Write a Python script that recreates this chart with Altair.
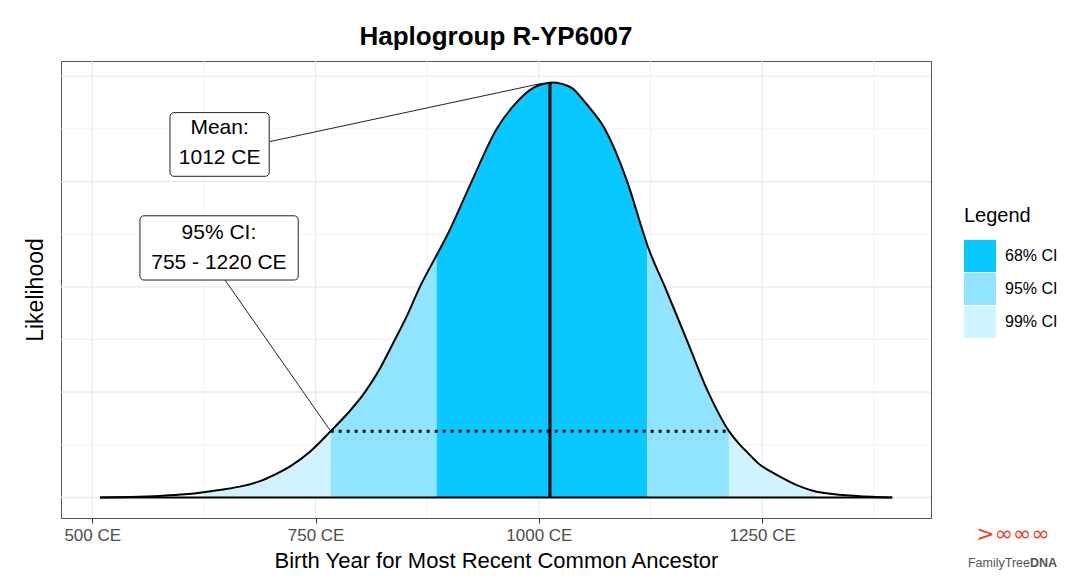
import altair as alt
import pandas as pd

# ---- data ----
# density curve (year, relative likelihood in grid units)
years = [508.6, 542.2, 575.8, 603.8, 624.3, 646.3, 669.0, 687.7, 702.6, 722.4,
         743.7, 766.9, 785.1, 805.3, 822.1, 838.9, 852.3, 866.8, 885.5, 897.9,
         924.7, 952.7, 973.2, 993.7, 1003.4, 1016.1, 1026.9, 1036.7, 1053.5,
         1073.9, 1098.9, 1116.5, 1121.3, 1141.1, 1165.4, 1189.6, 1212.8, 1225.1,
         1232.6, 1247.5, 1264.3, 1292.3, 1310.9, 1355.7, 1395.6]
likelihood = [0.0, 0.01, 0.03, 0.06, 0.10, 0.15, 0.22, 0.31, 0.42, 0.60,
              0.87, 1.26, 1.58, 2.0, 2.45, 3.0, 3.45, 4.0, 4.6, 5.0,
              6.0, 7.0, 7.47, 7.78, 7.85, 7.88, 7.85, 7.78, 7.47,
              7.0, 6.0, 5.05, 4.8, 4.0, 3.0, 2.0, 1.26, 1.0,
              0.87, 0.62, 0.45, 0.21, 0.11, 0.03, 0.0]

band_edges = [624.3, 766.9, 885.5, 1121.3, 1212.8, 1310.9]
band_names = ["99% CI", "95% CI", "68% CI", "95% CI", "99% CI"]
legend_order = ["68% CI", "95% CI", "99% CI"]
legend_colors = ["#08C8FF", "#91E4FF", "#D0F4FF"]

mean_year = 1012.4
mean_top = 7.88
ci_level = 1.26
ci_low, ci_high = 766.9, 1212.8

ann_text = ["Mean:\n1012 CE", "95% CI:\n755 - 1220 CE"]
ann_x = [642.6, 641.8]
ann_y = [7.01, 5.02]
box_x1 = [587.0, 553.4]
box_x2 = [698.1, 730.6]
box_y1 = [6.10, 4.13]
box_y2 = [7.31, 5.35]
lead_x1 = [698.9, 648.6]
lead_y1 = [6.76, 4.13]
lead_x2 = [1004.5, 766.9]
lead_y2 = [7.87, 1.26]

x_major = [500, 750, 1000, 1250]
x_minor = [625, 875, 1125, 1375]
y_major = [0, 2, 4, 6, 8]
y_minor = [1, 3, 5, 7]

# ---- tables ----
curve = pd.DataFrame({"year": years, "lik": likelihood})
rows = []
for i, name in enumerate(band_names):
    lo, hi = band_edges[i], band_edges[i + 1]
    for yv, lv in zip(years, likelihood):
        if lo - 1e-9 <= yv <= hi + 1e-9:
            rows.append({"year": yv, "lik": lv, "band": name, "seg": i})
bands = pd.DataFrame(rows)
ann = pd.DataFrame({"text": ann_text, "x": ann_x, "y": ann_y,
                    "bx1": box_x1, "bx2": box_x2, "by1": box_y1, "by2": box_y2,
                    "lx1": lead_x1, "ly1": lead_y1, "lx2": lead_x2, "ly2": lead_y2})

FONT = "Liberation Sans"
xs = alt.Scale(domain=[465, 1439], nice=False, zero=False)
ys = alt.Scale(domain=[-0.39, 8.29], nice=False, zero=False)
xaxis = alt.Axis(values=x_major, labelExpr="datum.value + ' CE'", grid=False,
                 domain=False, ticks=True, tickColor="#333333", tickSize=5,
                 labelFontSize=17, labelColor="#4D4D4D", labelPadding=4,
                 title="Birth Year for Most Recent Common Ancestor",
                 titleFontSize=22, titleColor="black", titleFontWeight="normal",
                 titlePadding=7)
yaxis = alt.Axis(labels=False, ticks=False, grid=False, domain=False,
                 title="Likelihood", titleFontSize=23, titleColor="black",
                 titleFontWeight="normal", titlePadding=14)


def X(f):
    return alt.X(f, type="quantitative", scale=xs, axis=xaxis)


def Y(f):
    return alt.Y(f, type="quantitative", scale=ys, axis=yaxis, stack=None)


gx_major = alt.Chart(pd.DataFrame({"v": x_major})).mark_rule(
    color="#E8E8E8", strokeWidth=1.2).encode(x=X("v"))
gx_minor = alt.Chart(pd.DataFrame({"v": x_minor})).mark_rule(
    color="#EFEFEF", strokeWidth=0.9).encode(x=X("v"))
gy_major = alt.Chart(pd.DataFrame({"v": y_major})).mark_rule(
    color="#E8E8E8", strokeWidth=1.2).encode(y=Y("v"))
gy_minor = alt.Chart(pd.DataFrame({"v": y_minor})).mark_rule(
    color="#EFEFEF", strokeWidth=0.9).encode(y=Y("v"))

areas = alt.Chart(bands).mark_area(opacity=1, interpolate="monotone").encode(
    x=X("year"), y=Y("lik"), y2=alt.datum(0),
    color=alt.Color("band:N", scale=alt.Scale(domain=legend_order, range=legend_colors),
                    legend=alt.Legend(title="Legend")),
    detail="seg:N",
)
line = alt.Chart(curve).mark_line(color="black", strokeWidth=2, interpolate="monotone").encode(
    x=X("year"), y=Y("lik"))
base = alt.Chart(pd.DataFrame({"a": [years[0]], "b": [years[-1]], "y": [0]})).mark_rule(
    color="black", strokeWidth=2).encode(x=X("a"), x2="b", y=Y("y"))
mean_rule = alt.Chart(pd.DataFrame({"x": [mean_year], "y": [0], "y2": [mean_top]})).mark_rule(
    color="black", strokeWidth=3).encode(x=X("x"), y=Y("y"), y2="y2")
ci_rule = alt.Chart(pd.DataFrame({"a": [ci_low], "b": [ci_high], "y": [ci_level]})).mark_rule(
    color="black", strokeWidth=3, strokeDash=[3, 5]).encode(x=X("a"), x2="b", y=Y("y"))
leaders = alt.Chart(ann).mark_rule(color="#222222", strokeWidth=1).encode(
    x=X("lx1"), y=Y("ly1"), x2="lx2", y2="ly2")
boxes = alt.Chart(ann).mark_rect(fill="white", stroke="#222222", strokeWidth=1,
                                 cornerRadius=4).encode(
    x=X("bx1"), x2="bx2", y=Y("by1"), y2="by2")
labels = alt.Chart(ann).mark_text(fontSize=21, font=FONT, color="black", lineBreak="\n",
                                  lineHeight=30, align="center", baseline="middle").encode(
    x=X("x"), y=Y("y"), text="text:N")

logo_df = pd.DataFrame({"t": ["x"]})
logo_a = alt.Chart(logo_df).mark_text(text="FamilyTree", font=FONT, fontSize=12.5,
                                      color="#555555", align="right", baseline="alphabetic").encode(
    x=alt.value(969), y=alt.value(506))
logo_b = alt.Chart(logo_df).mark_text(text="DNA", font=FONT, fontSize=12.5, fontWeight="bold",
                                      color="#555555", align="left", baseline="alphabetic").encode(
    x=alt.value(969), y=alt.value(506))
logo_c = alt.Chart(logo_df).mark_text(text=">∞∞∞", font="DejaVu Sans", fontSize=22,
                                      color="#F0401E", align="center", baseline="middle").encode(
    x=alt.value(952), y=alt.value(473))

chart = alt.layer(
    gx_minor, gx_major, gy_minor, gy_major, areas, line, base, mean_rule, ci_rule,
    leaders, boxes, labels, logo_a, logo_b, logo_c
).properties(
    width=870, height=457,
    title=alt.TitleParams("Haplogroup R-YP6007", fontSize=26, fontWeight="bold",
                          font=FONT, color="black", anchor="middle", offset=10),
    autosize=alt.AutoSizeParams(type="none"),
    padding={"left": 53, "top": 53, "right": 128, "bottom": 55},
).configure(font=FONT).configure_view(
    stroke="#555555", strokeWidth=1
).configure_legend(
    orient="none", legendX=903, legendY=145, padding=0,
    symbolType="square", symbolSize=1024, symbolStrokeWidth=0, symbolOpacity=1,
    labelFontSize=16, labelColor="black", labelOffset=9, rowPadding=1,
    titleFontSize=20, titleFontWeight="normal", titleColor="black", titlePadding=14,
    labelFont=FONT, titleFont=FONT,
)

chart.save("out.html", embed_options={"renderer": "svg", "actions": False})
